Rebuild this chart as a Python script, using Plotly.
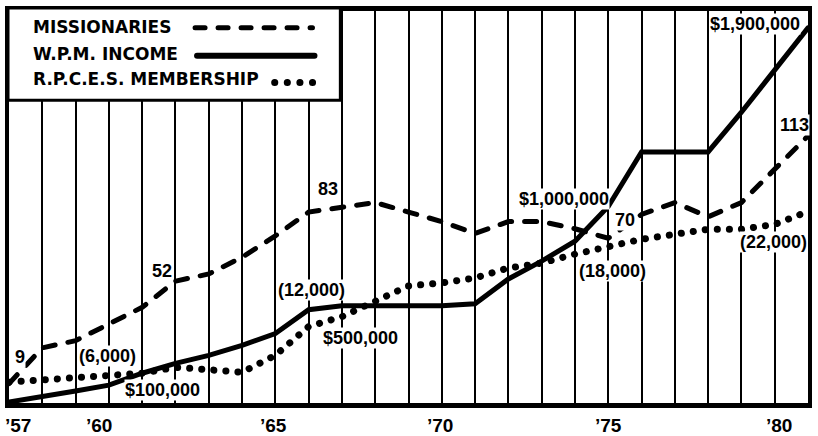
import plotly.graph_objects as go

# ---------------- data ----------------
years = list(range(1957, 1982))
missionaries = [9, 24, 27, 34, 41, 52, 55, 62, 71, 81, 83, 85, 81, 77, 72, 77, 77, 74, 70,
                80, 85, 79, 85, 99, 113]
income = [15000, 40000, 70000, 100000, 160000, 210000, 250000, 300000, 360000, 480000,
          500000, 500000, 500000, 500000, 510000, 635000, 725000, 825000, 1000000,
          1275000, 1275000, 1275000, 1475000, 1690000, 1900000]
membership = [6100, 6300, 6500, 6800, 7000, 7600, 7400, 7100, 8800, 11700, 12700, 14300,
              15800, 16100, 16600, 17600, 18100, 19000, 19800, 20500, 21000, 21500, 21500,
              22000, 23300]
tick_years = [1957, 1960, 1965, 1970, 1975, 1980]
tick_labels = ["\u201957", "\u201960", "\u201965", "\u201970", "\u201975", "\u201980"]
legend_names = ["MISSIONARIES", "W.P.M. INCOME", "R.P.C.E.S. MEMBERSHIP"]
value_labels = ["9", "(6,000)", "$100,000", "52", "83", "(12,000)", "$500,000",
                "$1,000,000", "70", "(18,000)", "$1,900,000", "113", "(22,000)"]

# ---------------- layout geometry (pixels) ----------------
W, H = 818, 436
PL, PR, PT, PB = 9, 812, 8, 403


def px(x):
    return (x - PL) / (PR - PL)


def py(y):
    return (PB - y) / (PB - PT)


def yrange(zero_px, px_per_unit):
    return [(zero_px - PB) / px_per_unit, (zero_px - PT) / px_per_unit]


label_pos = [(20, 357), (108, 356), (163, 390), (163, 270), (330, 187), (313, 289),
             (362, 337), (567, 197), (628, 219), (616, 270), (759, 21), (798, 123),
             (777, 241)]
tick_shift = [9, -10, -2, -2, 0, 4]

DASH = "12px,13px"
DOT = "0.1px,12px"

fig = go.Figure()
fig.add_trace(go.Scatter(x=years, y=missionaries, yaxis="y", mode="lines",
                         line=dict(color="black", width=5, dash=DASH)))
fig.add_trace(go.Scatter(x=years, y=membership, yaxis="y3", mode="lines",
                         line=dict(color="black", width=7, dash=DOT)))
fig.add_trace(go.Scatter(x=years, y=income, yaxis="y2", mode="lines",
                         line=dict(color="black", width=5)))

shapes = [
    dict(type="rect", xref="paper", yref="paper", x0=px(8), x1=px(342), y0=py(98), y1=py(5),
         line=dict(color="black", width=3), fillcolor="white", layer="above"),
    dict(type="line", xref="paper", yref="paper", x0=px(196), x1=px(314), y0=py(25), y1=py(25),
         line=dict(color="black", width=5, dash="10px,13px"), layer="above"),
    dict(type="line", xref="paper", yref="paper", x0=px(198), x1=px(316), y0=py(53), y1=py(53),
         line=dict(color="black", width=6), layer="above"),
    dict(type="line", xref="paper", yref="paper", x0=px(276), x1=px(318), y0=py(80), y1=py(80),
         line=dict(color="black", width=7, dash="0.1px,12.5px"), layer="above"),
]

annotations = []
for name, cy in zip(legend_names, [24, 51, 77]):
    annotations.append(dict(text=f"<b>{name}</b>", xref="paper", yref="paper",
                            x=px(31), y=py(cy), xanchor="left", yanchor="middle",
                            showarrow=False,
                            font=dict(family="DejaVu Sans", size=17, color="black")))
for t, (cx, cy) in zip(value_labels, label_pos):
    annotations.append(dict(text=f"<b>{t}</b>", xref="paper", yref="paper",
                            x=px(cx), y=py(cy), xanchor="center", yanchor="middle",
                            showarrow=False, bgcolor="white", borderpad=0,
                            font=dict(family="Liberation Sans", size=18, color="black")))
for yr, lab, sh in zip(tick_years, tick_labels, tick_shift):
    annotations.append(dict(text=f"<b>{lab}</b>", xref="x", yref="paper",
                            x=yr, y=0, yshift=-22, xshift=sh,
                            xanchor="center", yanchor="middle", showarrow=False,
                            font=dict(family="Liberation Sans", size=19, color="black")))

fig.update_layout(
    width=W, height=H,
    margin=dict(l=PL, r=W - PR, t=PT, b=H - PB, pad=0),
    paper_bgcolor="white", plot_bgcolor="white",
    showlegend=False,
    xaxis=dict(range=[1957, 1981], tickmode="linear", tick0=1957, dtick=1,
               showgrid=True, gridcolor="black", gridwidth=1.5,
               showticklabels=False, ticks="", zeroline=False,
               showline=True, linecolor="black", linewidth=5, mirror=True),
    yaxis=dict(range=yrange(405, 2.4), showgrid=False, showticklabels=False, ticks="",
               zeroline=False, showline=True, linecolor="black", linewidth=4, mirror=True),
    yaxis2=dict(range=yrange(405, 1 / 5000), overlaying="y", visible=False),
    yaxis3=dict(range=yrange(443, 0.01), overlaying="y", visible=False),
    shapes=shapes,
    annotations=annotations,
)

post = ("var s=document.createElement('style');"
        "s.textContent='html, body {margin:0; padding:0; overflow:hidden;} "
        ".scatterlayer path, .shapelayer path {stroke-linecap: round;}';"
        "document.head.appendChild(s);")
fig.write_html("out.html", post_script=post, config={"displayModeBar": False})
